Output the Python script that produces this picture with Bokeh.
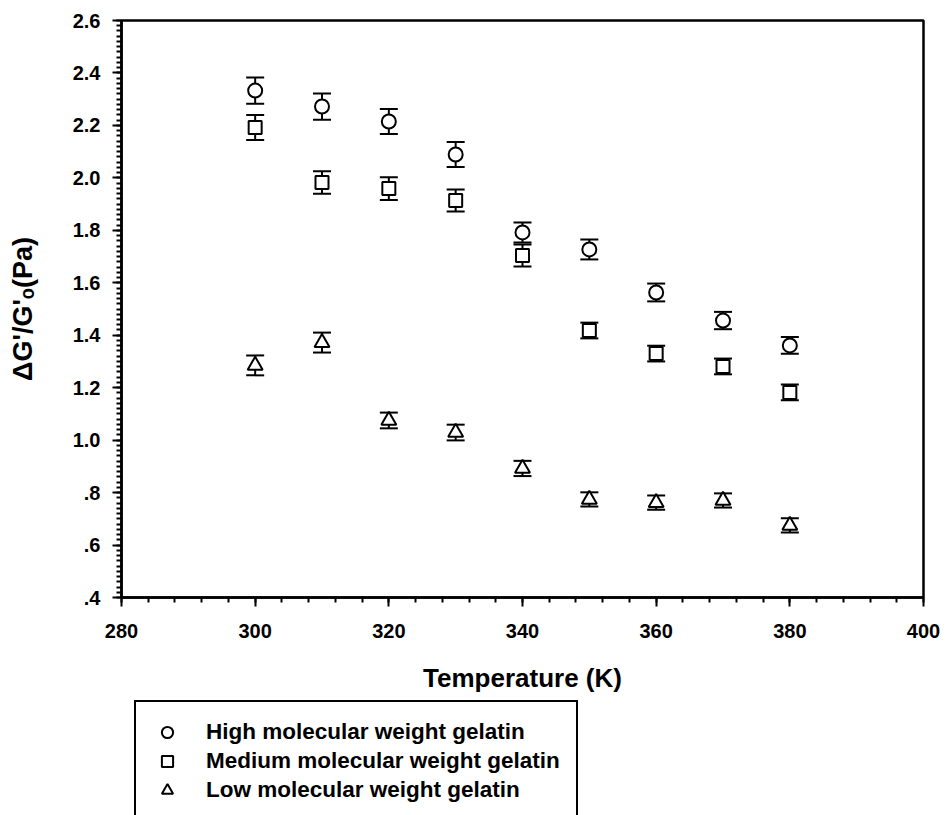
from bokeh.plotting import figure
from bokeh.layouts import column
from bokeh.models import (ColumnDataSource, Whisker, TeeHead, Legend, LegendItem,
                          FixedTicker, CustomJSTickFormatter, Range1d)
from bokeh.embed import file_html
from bokeh.resources import INLINE

# ---- data ----
temperature = [300, 310, 320, 330, 340, 350, 360, 370, 380]
high_vals = [2.333, 2.272, 2.215, 2.089, 1.792, 1.727, 1.563, 1.456, 1.361]
high_err = [0.050, 0.050, 0.048, 0.048, 0.038, 0.038, 0.034, 0.033, 0.032]
medium_vals = [2.192, 1.982, 1.959, 1.914, 1.704, 1.418, 1.330, 1.281, 1.182]
medium_err = [0.048, 0.043, 0.043, 0.042, 0.042, 0.030, 0.030, 0.030, 0.030]
low_vals = [1.285, 1.372, 1.075, 1.029, 0.892, 0.774, 0.762, 0.770, 0.675]
low_err = [0.038, 0.038, 0.030, 0.030, 0.029, 0.027, 0.027, 0.027, 0.027]

series_labels = ["High molecular weight gelatin",
                 "Medium molecular weight gelatin",
                 "Low molecular weight gelatin"]
x_ticks = [280, 300, 320, 340, 360, 380, 400]
y_ticks = [0.4, 0.6, 0.8, 1.0, 1.2, 1.4, 1.6, 1.8, 2.0, 2.2, 2.4, 2.6]
x_label = "Temperature (K)"
y_label = "ΔG'/G'ₒ(Pa)"

FONT = "Liberation Sans"

p = figure(width=947, height=700, x_range=Range1d(280, 400), y_range=Range1d(0.4, 2.6),
           output_backend="svg", toolbar_location=None,
           min_border_left=121, min_border_right=24, min_border_top=20, min_border_bottom=103)

p.xgrid.visible = False
p.ygrid.visible = False
p.outline_line_color = "black"
p.outline_line_width = 2.5
p.outline_line_alpha = 1

# minor ticks
x_minor = [280 + 4 * i for i in range(31)]
y_minor = [round(0.4 + 0.02 * i, 2) for i in range(111)]
p.xaxis.ticker = FixedTicker(ticks=x_ticks, minor_ticks=x_minor)
p.yaxis.ticker = FixedTicker(ticks=y_ticks, minor_ticks=y_minor)
p.yaxis.formatter = CustomJSTickFormatter(code="return tick.toFixed(1).replace(/^0/, '');")

for ax in (p.xaxis[0], p.yaxis[0]):
    ax.axis_line_width = 2.5
    ax.axis_line_color = "black"
    ax.major_tick_line_width = 2
    ax.minor_tick_line_width = 2
    ax.major_tick_out = 9
    ax.major_tick_in = 0
    ax.minor_tick_out = 5
    ax.minor_tick_in = 0
    ax.major_label_text_font = FONT
    ax.major_label_text_font_style = "bold"
    ax.major_label_text_font_size = "20px"
    ax.major_label_text_color = "black"
    ax.axis_label_text_font = FONT
    ax.axis_label_text_font_style = "bold"
    ax.axis_label_text_color = "black"

p.xaxis.axis_label = x_label
p.yaxis.axis_label = y_label
p.xaxis.axis_label_text_font_size = "26px"
p.yaxis.axis_label_text_font_size = "27px"
p.xaxis.major_label_standoff = 17
p.yaxis.major_label_standoff = 12
p.xaxis.axis_label_standoff = 22
p.yaxis.axis_label_standoff = 32

series = [(high_vals, high_err, "circle", 14),
          (medium_vals, medium_err, "square", 13),
          (low_vals, low_err, "triangle", 15)]

for vals, errs, marker, size in series:
    src = ColumnDataSource(dict(
        x=temperature, y=vals,
        upper=[v + e for v, e in zip(vals, errs)],
        lower=[v - e for v, e in zip(vals, errs)]))
    w = Whisker(source=src, base="x", upper="upper", lower="lower",
                line_color="black", line_width=2, level="underlay",
                upper_head=TeeHead(size=18, line_width=2, line_color="black"),
                lower_head=TeeHead(size=18, line_width=2, line_color="black"))
    p.add_layout(w)
    p.scatter("x", "y", source=src, marker=marker, size=size,
              line_color="black", line_width=2, fill_color="white")

# ---- legend strip below the chart (its own ranges keep the points out of view) ----
leg = figure(width=947, height=115, x_range=Range1d(0, 1), y_range=Range1d(0, 1),
             output_backend="svg", toolbar_location=None,
             x_axis_location=None, y_axis_location=None,
             min_border_left=0, min_border_right=0, min_border_top=0, min_border_bottom=0)
leg.outline_line_color = None
leg.xgrid.visible = False
leg.ygrid.visible = False

items = []
for (vals, errs, marker, size), lab in zip(series, series_labels):
    r = leg.scatter(x=temperature, y=vals, marker=marker, size=size,
                    line_color="black", line_width=2, fill_color="white")
    items.append(LegendItem(label=lab, renderers=[r]))

legend = Legend(items=items, location=(13, -7), padding=16, spacing=1, margin=0,
                glyph_width=30, glyph_height=28, label_standoff=24,
                label_width=350, label_height=28,
                label_text_font=FONT, label_text_font_style="bold",
                label_text_font_size="22.5px", label_text_color="black",
                border_line_color="black", border_line_width=2, border_line_alpha=1,
                background_fill_color="white", background_fill_alpha=1)
leg.add_layout(legend)

layout = column(p, leg, spacing=0)
open("out.html", "w").write(file_html(layout, INLINE))
